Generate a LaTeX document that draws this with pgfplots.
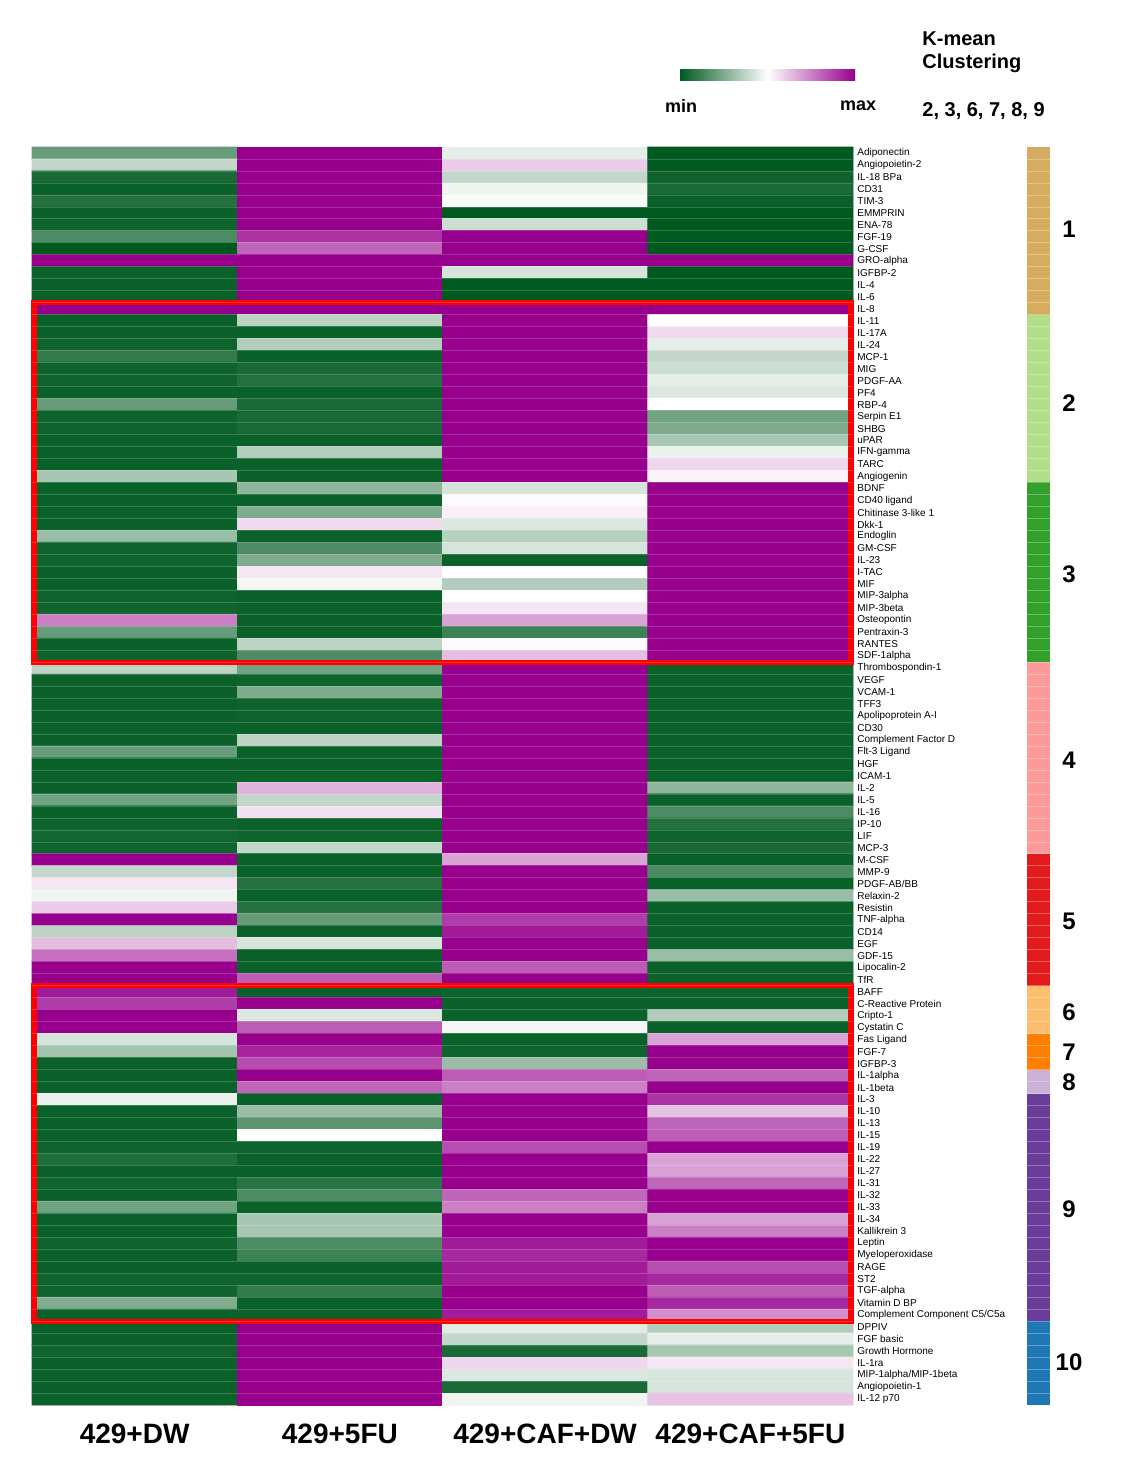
\documentclass[border=0pt]{standalone}
\usepackage{pgfplots}
\pgfplotsset{compat=1.18}
\usepackage{pgfplotstable}
\usepackage{fontspec}
\setmainfont{Liberation Sans}

\definecolor{hg}{RGB}{0,90,32}
\definecolor{hp}{RGB}{150,0,140}
\definecolor{cla}{RGB}{214,172,96}
\definecolor{clb}{RGB}{178,223,138}
\definecolor{clc}{RGB}{51,160,44}
\definecolor{cld}{RGB}{251,154,153}
\definecolor{cle}{RGB}{227,26,28}
\definecolor{clf}{RGB}{253,191,111}
\definecolor{clg}{RGB}{255,127,0}
\definecolor{clh}{RGB}{202,178,214}
\definecolor{cli}{RGB}{106,61,154}
\definecolor{clj}{RGB}{31,120,180}

\pgfplotstableread[row sep=\\]{
x y c\\
0 1 0.20\\ 1 1 1\\ 2 1 0.45\\ 3 1 0\\
0 2 0.38\\ 1 2 1\\ 2 2 0.60\\ 3 2 0\\
0 3 0.05\\ 1 3 1\\ 2 3 0.38\\ 3 3 0.03\\
0 4 0.02\\ 1 4 1\\ 2 4 0.47\\ 3 4 0.05\\
0 5 0.07\\ 1 5 1\\ 2 5 0.49\\ 3 5 0.02\\
0 6 0.02\\ 1 6 1\\ 2 6 0\\ 3 6 0\\
0 7 0.03\\ 1 7 1\\ 2 7 0.40\\ 3 7 0\\
0 8 0.15\\ 1 8 0.90\\ 2 8 1\\ 3 8 0\\
0 9 0\\ 1 9 0.80\\ 2 9 1\\ 3 9 0\\
0 10 1\\ 1 10 1\\ 2 10 1\\ 3 10 1\\
0 11 0.02\\ 1 11 1\\ 2 11 0.42\\ 3 11 0\\
0 12 0.02\\ 1 12 1\\ 2 12 0\\ 3 12 0\\
0 13 0.02\\ 1 13 1\\ 2 13 0\\ 3 13 0\\
0 14 1\\ 1 14 1\\ 2 14 1\\ 3 14 1\\
0 15 0.02\\ 1 15 0.37\\ 2 15 1\\ 3 15 0.50\\
0 16 0.02\\ 1 16 0.02\\ 2 16 1\\ 3 16 0.57\\
0 17 0.03\\ 1 17 0.35\\ 2 17 1\\ 3 17 0.45\\
0 18 0.10\\ 1 18 0.02\\ 2 18 1\\ 3 18 0.38\\
0 19 0.03\\ 1 19 0.05\\ 2 19 1\\ 3 19 0.40\\
0 20 0.03\\ 1 20 0.07\\ 2 20 1\\ 3 20 0.45\\
0 21 0.02\\ 1 21 0.02\\ 2 21 1\\ 3 21 0.43\\
0 22 0.20\\ 1 22 0.05\\ 2 22 1\\ 3 22 0.50\\
0 23 0.03\\ 1 23 0.05\\ 2 23 1\\ 3 23 0.22\\
0 24 0.03\\ 1 24 0.05\\ 2 24 1\\ 3 24 0.25\\
0 25 0.02\\ 1 25 0.02\\ 2 25 1\\ 3 25 0.33\\
0 26 0.02\\ 1 26 0.35\\ 2 26 1\\ 3 26 0.46\\
0 27 0.02\\ 1 27 0.02\\ 2 27 1\\ 3 27 0.58\\
0 28 0.33\\ 1 28 0.02\\ 2 28 1\\ 3 28 0.52\\
0 29 0.02\\ 1 29 0.28\\ 2 29 0.42\\ 3 29 1\\
0 30 0.02\\ 1 30 0.02\\ 2 30 0.51\\ 3 30 1\\
0 31 0.02\\ 1 31 0.25\\ 2 31 0.53\\ 3 31 1\\
0 32 0.02\\ 1 32 0.57\\ 2 32 0.43\\ 3 32 1\\
0 33 0.30\\ 1 33 0.02\\ 2 33 0.36\\ 3 33 1\\
0 34 0.03\\ 1 34 0.15\\ 2 34 0.42\\ 3 34 1\\
0 35 0.03\\ 1 35 0.25\\ 2 35 0.02\\ 3 35 1\\
0 36 0.02\\ 1 36 0.55\\ 2 36 0.50\\ 3 36 1\\
0 37 0.02\\ 1 37 0.48\\ 2 37 0.35\\ 3 37 1\\
0 38 0.03\\ 1 38 0.02\\ 2 38 0.50\\ 3 38 1\\
0 39 0.03\\ 1 39 0.02\\ 2 39 0.55\\ 3 39 1\\
0 40 0.75\\ 1 40 0.02\\ 2 40 0.68\\ 3 40 1\\
0 41 0.20\\ 1 41 0.02\\ 2 41 0.12\\ 3 41 1\\
0 42 0.02\\ 1 42 0.37\\ 2 42 0.51\\ 3 42 1\\
0 43 0.03\\ 1 43 0.15\\ 2 43 0.63\\ 3 43 1\\
0 44 0.37\\ 1 44 0.22\\ 2 44 1\\ 3 44 0.02\\
0 45 0.02\\ 1 45 0.03\\ 2 45 1\\ 3 45 0.02\\
0 46 0.02\\ 1 46 0.25\\ 2 46 1\\ 3 46 0.02\\
0 47 0.02\\ 1 47 0.03\\ 2 47 1\\ 3 47 0.02\\
0 48 0.02\\ 1 48 0.03\\ 2 48 1\\ 3 48 0.02\\
0 49 0.02\\ 1 49 0.02\\ 2 49 1\\ 3 49 0.02\\
0 50 0.02\\ 1 50 0.37\\ 2 50 1\\ 3 50 0.02\\
0 51 0.20\\ 1 51 0.02\\ 2 51 1\\ 3 51 0.02\\
0 52 0.02\\ 1 52 0.02\\ 2 52 1\\ 3 52 0.02\\
0 53 0.02\\ 1 53 0.02\\ 2 53 1\\ 3 53 0.02\\
0 54 0.02\\ 1 54 0.65\\ 2 54 1\\ 3 54 0.28\\
0 55 0.22\\ 1 55 0.38\\ 2 55 1\\ 3 55 0.02\\
0 56 0.02\\ 1 56 0.56\\ 2 56 1\\ 3 56 0.15\\
0 57 0.03\\ 1 57 0.02\\ 2 57 1\\ 3 57 0.07\\
0 58 0.04\\ 1 58 0.03\\ 2 58 1\\ 3 58 0.03\\
0 59 0.03\\ 1 59 0.38\\ 2 59 1\\ 3 59 0.05\\
0 60 1\\ 1 60 0.02\\ 2 60 0.68\\ 3 60 0.02\\
0 61 0.38\\ 1 61 0.02\\ 2 61 1\\ 3 61 0.15\\
0 62 0.55\\ 1 62 0.07\\ 2 62 1\\ 3 62 0.02\\
0 63 0.47\\ 1 63 0.02\\ 2 63 1\\ 3 63 0.30\\
0 64 0.60\\ 1 64 0.07\\ 2 64 1\\ 3 64 0.02\\
0 65 1\\ 1 65 0.20\\ 2 65 0.88\\ 3 65 0.02\\
0 66 0.37\\ 1 66 0.02\\ 2 66 0.95\\ 3 66 0.02\\
0 67 0.63\\ 1 67 0.42\\ 2 67 1\\ 3 67 0.02\\
0 68 0.78\\ 1 68 0.02\\ 2 68 1\\ 3 68 0.30\\
0 69 1\\ 1 69 0.02\\ 2 69 0.82\\ 3 69 0.02\\
0 70 1\\ 1 70 0.82\\ 2 70 1\\ 3 70 0.02\\
0 71 0.95\\ 1 71 0.02\\ 2 71 0.03\\ 3 71 0.03\\
0 72 0.88\\ 1 72 1\\ 2 72 0.02\\ 3 72 0.02\\
0 73 1\\ 1 73 0.43\\ 2 73 0.02\\ 3 73 0.35\\
0 74 1\\ 1 74 0.82\\ 2 74 0.48\\ 3 74 0.02\\
0 75 0.42\\ 1 75 1\\ 2 75 0.02\\ 3 75 0.68\\
0 76 0.32\\ 1 76 0.93\\ 2 76 0.03\\ 3 76 1\\
0 77 0.02\\ 1 77 0.85\\ 2 77 0.30\\ 3 77 1\\
0 78 0.02\\ 1 78 1\\ 2 78 0.82\\ 3 78 0.80\\
0 79 0.02\\ 1 79 0.80\\ 2 79 0.75\\ 3 79 1\\
0 80 0.46\\ 1 80 0.02\\ 2 80 1\\ 3 80 0.90\\
0 81 0.02\\ 1 81 0.30\\ 2 81 1\\ 3 81 0.62\\
0 82 0.02\\ 1 82 0.18\\ 2 82 1\\ 3 82 0.80\\
0 83 0.02\\ 1 83 0.50\\ 2 83 1\\ 3 83 0.82\\
0 84 0.03\\ 1 84 0.03\\ 2 84 0.85\\ 3 84 1\\
0 85 0.06\\ 1 85 0.02\\ 2 85 1\\ 3 85 0.68\\
0 86 0.02\\ 1 86 0.02\\ 2 86 1\\ 3 86 0.68\\
0 87 0.03\\ 1 87 0.08\\ 2 87 1\\ 3 87 0.80\\
0 88 0.02\\ 1 88 0.15\\ 2 88 0.80\\ 3 88 1\\
0 89 0.22\\ 1 89 0.02\\ 2 89 0.75\\ 3 89 1\\
0 90 0.02\\ 1 90 0.33\\ 2 90 1\\ 3 90 0.68\\
0 91 0.02\\ 1 91 0.33\\ 2 91 1\\ 3 91 0.75\\
0 92 0.03\\ 1 92 0.15\\ 2 92 0.95\\ 3 92 1\\
0 93 0.02\\ 1 93 0.12\\ 2 93 0.92\\ 3 93 1\\
0 94 0.02\\ 1 94 0.02\\ 2 94 0.95\\ 3 94 0.85\\
0 95 0.03\\ 1 95 0.03\\ 2 95 0.95\\ 3 95 0.92\\
0 96 0.03\\ 1 96 0.10\\ 2 96 1\\ 3 96 0.82\\
0 97 0.25\\ 1 97 0.02\\ 2 97 1\\ 3 97 0.92\\
0 98 0.02\\ 1 98 0.02\\ 2 98 0.95\\ 3 98 0.72\\
0 99 0.02\\ 1 99 1\\ 2 99 0.44\\ 3 99 0.35\\
0 100 0.02\\ 1 100 1\\ 2 100 0.38\\ 3 100 0.45\\
0 101 0.03\\ 1 101 1\\ 2 101 0.05\\ 3 101 0.33\\
0 102 0.02\\ 1 102 1\\ 2 102 0.58\\ 3 102 0.55\\
0 103 0.02\\ 1 103 1\\ 2 103 0.43\\ 3 103 0.42\\
0 104 0.02\\ 1 104 1\\ 2 104 0.05\\ 3 104 0.42\\
0 105 0.02\\ 1 105 1\\ 2 105 0.47\\ 3 105 0.62\\
}\heat

\begin{document}
\begin{tikzpicture}
\begin{scope}[x=0.5pt,y=-0.5pt]
\path[use as bounding box, fill=white] (0,0) rectangle (1123,1465);
\end{scope}

\begin{axis}[
  at={(16pt,-73.5pt)}, anchor=north west,
  scale only axis, width=410.5pt, height=629pt,
  xmin=-0.5, xmax=3.5, ymin=0.5, ymax=105.5, y dir=reverse,
  clip=false,
  axis line style={draw=none},
  colormap={gwp}{rgb255=(0,90,32) rgb255=(255,255,255) rgb255=(150,0,140)},
  point meta min=0, point meta max=1,
  major tick length=0pt,
  tick style={draw=none},
  xtick={0,1,2,3},
  xticklabels={429+DW,429+5FU,429+CAF+DW,429+CAF+5FU},
  xticklabel style={font=\bfseries\fontsize{14}{14}\selectfont, inner sep=0pt, yshift=-9.5pt},
  ytick={1,...,105},
  yticklabel pos=right,
  yticklabel style={font=\fontsize{5}{6}\selectfont, inner sep=0pt, xshift=2pt},
  yticklabels={Adiponectin,Angiopoietin-2,IL-18 BPa,CD31,TIM-3,EMMPRIN,ENA-78,FGF-19,G-CSF,GRO-alpha,IGFBP-2,IL-4,IL-6,IL-8,IL-11,IL-17A,IL-24,MCP-1,MIG,PDGF-AA,PF4,RBP-4,Serpin E1,SHBG,uPAR,IFN-gamma,TARC,Angiogenin,BDNF,CD40 ligand,Chitinase 3-like 1,Dkk-1,Endoglin,GM-CSF,IL-23,I-TAC,MIF,MIP-3alpha,MIP-3beta,Osteopontin,Pentraxin-3,RANTES,SDF-1alpha,Thrombospondin-1,VEGF,VCAM-1,TFF3,Apolipoprotein A-I,CD30,Complement Factor D,Flt-3 Ligand,HGF,ICAM-1,IL-2,IL-5,IL-16,IP-10,LIF,MCP-3,M-CSF,MMP-9,PDGF-AB/BB,Relaxin-2,Resistin,TNF-alpha,CD14,EGF,GDF-15,Lipocalin-2,TfR,BAFF,C-Reactive Protein,Cripto-1,Cystatin C,Fas Ligand,FGF-7,IGFBP-3,IL-1alpha,IL-1beta,IL-3,IL-10,IL-13,IL-15,IL-19,IL-22,IL-27,IL-31,IL-32,IL-33,IL-34,Kallikrein 3,Leptin,Myeloperoxidase,RAGE,ST2,TGF-alpha,Vitamin D BP,Complement Component C5/C5a,DPPIV,FGF basic,Growth Hormone,IL-1ra,MIP-1alpha/MIP-1beta,Angiopoietin-1,IL-12 p70},
  extra y ticks={1.5,2.5,...,104.5},
  extra y tick labels={},
  extra y tick style={grid=major, major grid style={white, opacity=0.18, line width=0.4pt}},
  axis on top,
]
\addplot[matrix plot*, mesh/cols=4, point meta=explicit] table[x=x, y=y, meta=c] {\heat};
\draw[red, line width=2.6pt] (axis cs:-0.49,13.5) rectangle (axis cs:3.49,43.5);
\draw[red, line width=2.6pt] (axis cs:-0.49,70.5) rectangle (axis cs:3.49,98.5);
\end{axis}

\begin{axis}[
  at={(513.5pt,-73.5pt)}, anchor=north west,
  scale only axis, width=11.5pt, height=629pt,
  xmin=0, xmax=1, ymin=0.5, ymax=105.5, y dir=reverse,
  axis line style={draw=none},
  xtick=\empty, ytick=\empty,
  major tick length=0pt,
  extra y ticks={1.5,2.5,...,104.5},
  extra y tick labels={},
  extra y tick style={grid=major, tick style={draw=none}, major grid style={white, opacity=0.3, line width=0.4pt}},
  axis on top,
]
\addplot[fill=cla, draw=none] coordinates {(0,0.5) (1,0.5) (1,14.5) (0,14.5)};
\addplot[fill=clb, draw=none] coordinates {(0,14.5) (1,14.5) (1,28.5) (0,28.5)};
\addplot[fill=clc, draw=none] coordinates {(0,28.5) (1,28.5) (1,43.5) (0,43.5)};
\addplot[fill=cld, draw=none] coordinates {(0,43.5) (1,43.5) (1,59.5) (0,59.5)};
\addplot[fill=cle, draw=none] coordinates {(0,59.5) (1,59.5) (1,70.5) (0,70.5)};
\addplot[fill=clf, draw=none] coordinates {(0,70.5) (1,70.5) (1,74.5) (0,74.5)};
\addplot[fill=clg, draw=none] coordinates {(0,74.5) (1,74.5) (1,77.5) (0,77.5)};
\addplot[fill=clh, draw=none] coordinates {(0,77.5) (1,77.5) (1,79.5) (0,79.5)};
\addplot[fill=cli, draw=none] coordinates {(0,79.5) (1,79.5) (1,98.5) (0,98.5)};
\addplot[fill=clj, draw=none] coordinates {(0,98.5) (1,98.5) (1,105.5) (0,105.5)};
\end{axis}

\begin{scope}[x=0.5pt,y=-0.5pt]
\shade[left color=hg, right color=hp, middle color=white] (680,70) rectangle (855,81);
\node[font=\bfseries\fontsize{9}{10}\selectfont] at (681,106) {min};
\node[font=\bfseries\fontsize{9}{10}\selectfont] at (858,106) {max};
\node[anchor=west, font=\bfseries\fontsize{10}{12}\selectfont, inner sep=0pt] at (922,39) {K-mean};
\node[anchor=west, font=\bfseries\fontsize{10}{12}\selectfont, inner sep=0pt] at (922,63) {Clustering};
\node[anchor=west, font=\bfseries\fontsize{10}{12}\selectfont, inner sep=0pt] at (922,111) {2, 3, 6, 7, 8, 9};
\foreach \n/\yy in {1/229, 2/403, 3/574, 4/760, 5/921, 6/1012, 7/1052, 8/1082, 9/1209, 10/1362}
  \node[font=\bfseries\fontsize{12}{14}\selectfont] at (1069,\yy) {\n};
\end{scope}
\end{tikzpicture}
\end{document}
